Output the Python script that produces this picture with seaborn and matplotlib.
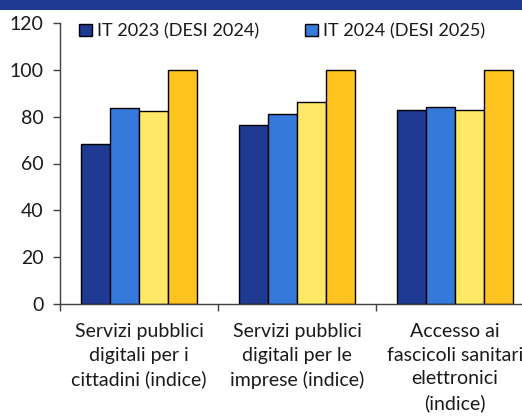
import matplotlib
matplotlib.use("Agg")
import matplotlib.pyplot as plt
import seaborn as sns
import pandas as pd
from matplotlib.patches import Patch, Rectangle

categories = [
    "Servizi pubblici\ndigitali per i\ncittadini (indice)",
    "Servizi pubblici\ndigitali per le\nimprese (indice)",
    "Accesso ai\nfascicoli sanitari\nelettronici\n(indice)",
]
series = ["IT 2023 (DESI 2024)", "IT 2024 (DESI 2025)", "UE 2024 (DESI 2025)", "Obiettivo UE 2030"]
it_2023 = [68.3, 76.4, 82.9]
it_2024 = [83.6, 81.2, 84.2]
eu_2024 = [82.4, 86.3, 82.9]
target_2030 = [100, 100, 100]
colors = ["#1F3A93", "#357ADB", "#FFE866", "#FFC31F"]
yticks = [0, 20, 40, 60, 80, 100, 120]

rows = []
for s, vals in zip(series, [it_2023, it_2024, eu_2024, target_2030]):
    for c, v in zip(categories, vals):
        rows.append({"cat": c, "series": s, "val": v})
df = pd.DataFrame(rows)

sns.set_theme(style="white")
plt.rcParams["font.family"] = ["Lato", "DejaVu Sans"]

fig = plt.figure(figsize=(5.22, 4.17), dpi=100)
ax = fig.add_axes([60 / 522, 113 / 417, 474 / 522, 281 / 417])

sns.barplot(data=df, x="cat", y="val", hue="series", palette=colors,
            edgecolor="black", linewidth=1.0, width=0.73, gap=0,
            ax=ax, legend=False, saturation=1)

ax.set_ylim(0, 120)
ax.set_xlim(-0.5, 2.5)
ax.set_yticks(yticks)
ax.set_xlabel("")
ax.set_ylabel("")
ax.tick_params(axis="y", labelsize=14, length=5, width=1, color="#404040", pad=7, left=True,
               labelcolor="#1a1a1a")
ax.tick_params(axis="x", which="major", length=0, labelsize=14, pad=14, labelcolor="#1a1a1a")
ax.set_xticks([-0.5, 0.5, 1.5, 2.5], minor=True)
ax.tick_params(axis="x", which="minor", length=5, width=1, color="#404040", bottom=True)
for lab in ax.get_xticklabels():
    lab.set_linespacing(1.45)
for side in ["top", "right"]:
    ax.spines[side].set_visible(False)
for side in ["left", "bottom"]:
    ax.spines[side].set_color("#404040")
    ax.spines[side].set_linewidth(1)

handles = [Patch(facecolor=colors[i], edgecolor="black", linewidth=1) for i in range(2)]
fig.legend(handles, series[:2], loc="upper left", bbox_to_anchor=(72 / 522, 1 - 16 / 417),
           ncol=2, frameon=False, fontsize=13.1, handlelength=0.7, handleheight=0.7,
           handletextpad=0.3, columnspacing=2.5, borderaxespad=0, labelcolor="#1a1a1a")

fig.patches.append(Rectangle((0, 1 - 10 / 417), 1, 10 / 417, transform=fig.transFigure,
                             facecolor="#1F3A93", edgecolor="none", zorder=10))

fig.savefig("out.png", dpi=100)
